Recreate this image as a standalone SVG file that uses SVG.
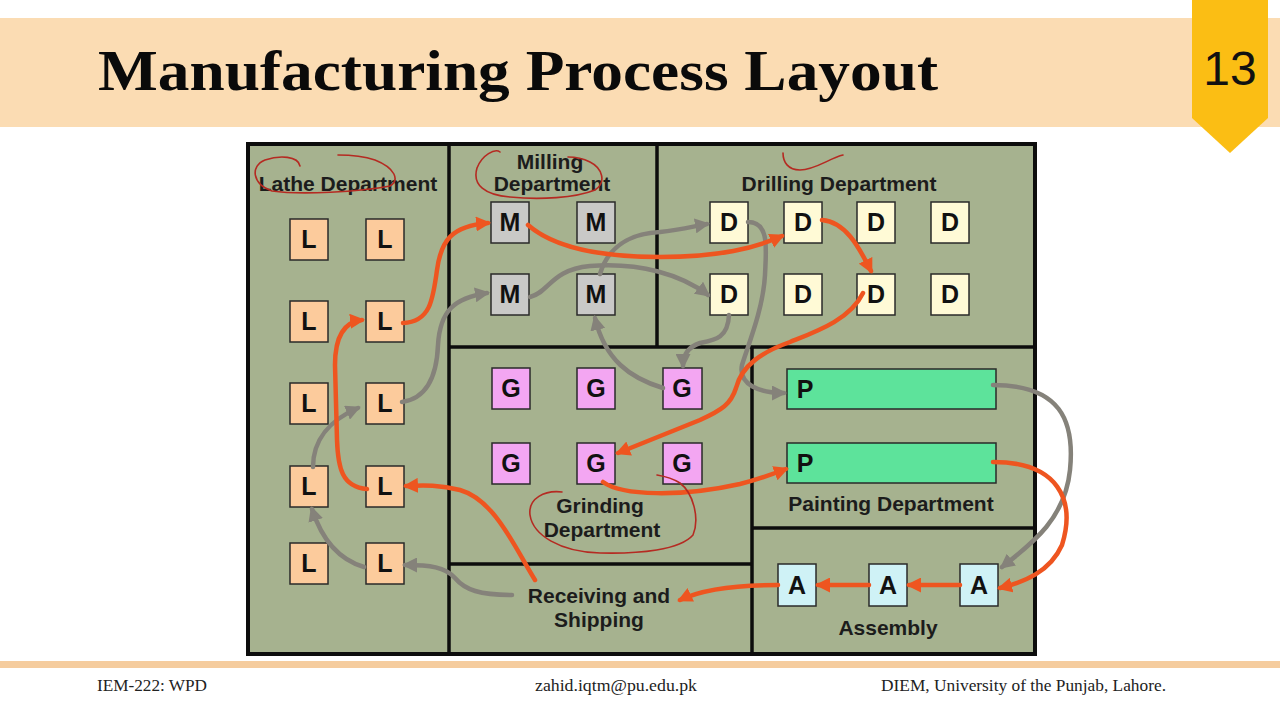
<svg xmlns="http://www.w3.org/2000/svg" width="1280" height="720" viewBox="0 0 1280 720">
<defs>
<style>
.frame{fill:#A6B28F;stroke:#0d0d0d;stroke-width:4}
.div{stroke:#0d0d0d;stroke-width:3.5;fill:none}
.lbl{font-family:"Liberation Sans",Arial,sans-serif;font-weight:bold;font-size:21px;fill:#1c1c1c;text-anchor:middle}
.let{font-family:"Liberation Sans",Arial,sans-serif;font-weight:bold;font-size:25px;fill:#111;text-anchor:middle}
.box{stroke:#2a2a2a;stroke-width:1.5}
.L{fill:#FCCB9C}
.M{fill:#C9C9C7}
.D{fill:#FFFAD6}
.G{fill:#F3A6F2}
.P{fill:#5DE39B}
.A{fill:#CFF2F6}
.or{fill:none;stroke:#EE5520;stroke-width:4.5;stroke-linecap:round}
.gr{fill:none;stroke:#85827A;stroke-width:4.5;stroke-linecap:round}
.red{fill:none;stroke:#B52A22;stroke-width:1.6;stroke-linecap:round}
.foot{font-family:"Liberation Serif","Times New Roman",serif;font-size:16px;fill:#222}
</style>
<marker id="ao" viewBox="0 0 10 10" refX="8" refY="5" markerWidth="15" markerHeight="15" markerUnits="userSpaceOnUse" orient="auto"><path d="M0,0 L10,5 L0,10 z" fill="#EE5520"/></marker>
<marker id="ag" viewBox="0 0 10 10" refX="8" refY="5" markerWidth="15" markerHeight="15" markerUnits="userSpaceOnUse" orient="auto"><path d="M0,0 L10,5 L0,10 z" fill="#85827A"/></marker>
</defs>
<rect x="0" y="0" width="1280" height="720" fill="#ffffff"/>
<!-- header -->
<rect x="0" y="18" width="1280" height="109" fill="#FBDCB3"/>
<text x="98" y="90" font-family="'Liberation Serif','Times New Roman',serif" font-weight="bold" font-size="56" fill="#0a0a0a" textLength="840" lengthAdjust="spacingAndGlyphs">Manufacturing Process Layout</text>
<polygon points="1192,0 1268,0 1268,118 1230,153 1192,118" fill="#FBBE14"/>
<text x="1230" y="85" font-family="'Liberation Sans',Arial,sans-serif" font-size="48" fill="#111" text-anchor="middle">13</text>
<!-- footer -->
<rect x="0" y="661" width="1280" height="7" fill="#F5CC9E"/>
<text class="foot" x="97" y="691" textLength="110" lengthAdjust="spacingAndGlyphs">IEM-222: WPD</text>
<text class="foot" x="535" y="691" textLength="162" lengthAdjust="spacingAndGlyphs">zahid.iqtm@pu.edu.pk</text>
<text class="foot" x="881" y="691" textLength="285" lengthAdjust="spacingAndGlyphs">DIEM, University of the Punjab, Lahore.</text>

<!-- plant frame and department walls -->
<g id="plant">
<rect class="frame" x="248" y="144" width="787" height="510"/>
<line class="div" x1="449" y1="144" x2="449" y2="654"/>
<line class="div" x1="657" y1="144" x2="657" y2="347"/>
<line class="div" x1="449" y1="347" x2="1035" y2="347"/>
<line class="div" x1="752" y1="347" x2="752" y2="654"/>
<line class="div" x1="449" y1="564" x2="752" y2="564"/>
<line class="div" x1="752" y1="528" x2="1035" y2="528"/>
</g>

<!-- department labels -->
<g id="lathe-label"><text class="lbl" x="348" y="191">Lathe Department</text></g>
<g id="milling-label"><text class="lbl" x="550" y="169">Milling</text><text class="lbl" x="552" y="191">Department</text></g>
<g id="drilling-label"><text class="lbl" x="839" y="191">Drilling Department</text></g>
<g id="grinding-label"><text class="lbl" x="600" y="513">Grinding</text><text class="lbl" x="602" y="537">Department</text></g>
<g id="receiving-label"><text class="lbl" x="599" y="603">Receiving and</text><text class="lbl" x="599" y="627">Shipping</text></g>
<g id="painting-label"><text class="lbl" x="891" y="511">Painting Department</text></g>
<g id="assembly-label"><text class="lbl" x="888" y="635">Assembly</text></g>

<!-- Lathe machines -->
<g id="L1"><rect class="box L" x="290" y="219" width="38" height="41"/><text class="let" x="309" y="248">L</text></g>
<g id="L2"><rect class="box L" x="366" y="219" width="38" height="41"/><text class="let" x="385" y="248">L</text></g>
<g id="L3"><rect class="box L" x="290" y="301" width="38" height="41"/><text class="let" x="309" y="330">L</text></g>
<g id="L4"><rect class="box L" x="366" y="301" width="38" height="41"/><text class="let" x="385" y="330">L</text></g>
<g id="L5"><rect class="box L" x="290" y="383" width="38" height="41"/><text class="let" x="309" y="412">L</text></g>
<g id="L6"><rect class="box L" x="366" y="383" width="38" height="41"/><text class="let" x="385" y="412">L</text></g>
<g id="L7"><rect class="box L" x="290" y="466" width="38" height="41"/><text class="let" x="309" y="495">L</text></g>
<g id="L8"><rect class="box L" x="366" y="466" width="38" height="41"/><text class="let" x="385" y="495">L</text></g>
<g id="L9"><rect class="box L" x="290" y="543" width="38" height="41"/><text class="let" x="309" y="572">L</text></g>
<g id="L10"><rect class="box L" x="366" y="543" width="38" height="41"/><text class="let" x="385" y="572">L</text></g>

<!-- Milling machines -->
<g id="M1"><rect class="box M" x="491" y="202" width="38" height="41"/><text class="let" x="510" y="231">M</text></g>
<g id="M2"><rect class="box M" x="577" y="202" width="38" height="41"/><text class="let" x="596" y="231">M</text></g>
<g id="M3"><rect class="box M" x="491" y="274" width="38" height="41"/><text class="let" x="510" y="303">M</text></g>
<g id="M4"><rect class="box M" x="577" y="274" width="38" height="41"/><text class="let" x="596" y="303">M</text></g>

<!-- Drilling machines -->
<g id="D1"><rect class="box D" x="710" y="202" width="38" height="41"/><text class="let" x="729" y="231">D</text></g>
<g id="D2"><rect class="box D" x="784" y="202" width="38" height="41"/><text class="let" x="803" y="231">D</text></g>
<g id="D3"><rect class="box D" x="857" y="202" width="38" height="41"/><text class="let" x="876" y="231">D</text></g>
<g id="D4"><rect class="box D" x="931" y="202" width="38" height="41"/><text class="let" x="950" y="231">D</text></g>
<g id="D5"><rect class="box D" x="710" y="274" width="38" height="41"/><text class="let" x="729" y="303">D</text></g>
<g id="D6"><rect class="box D" x="784" y="274" width="38" height="41"/><text class="let" x="803" y="303">D</text></g>
<g id="D7"><rect class="box D" x="857" y="274" width="38" height="41"/><text class="let" x="876" y="303">D</text></g>
<g id="D8"><rect class="box D" x="931" y="274" width="38" height="41"/><text class="let" x="950" y="303">D</text></g>

<!-- Grinding machines -->
<g id="G1"><rect class="box G" x="492" y="368" width="38" height="41"/><text class="let" x="511" y="397">G</text></g>
<g id="G2"><rect class="box G" x="577" y="368" width="38" height="41"/><text class="let" x="596" y="397">G</text></g>
<g id="G3"><rect class="box G" x="663" y="368" width="39" height="41"/><text class="let" x="682" y="397">G</text></g>
<g id="G4"><rect class="box G" x="492" y="443" width="38" height="41"/><text class="let" x="511" y="472">G</text></g>
<g id="G5"><rect class="box G" x="577" y="443" width="38" height="41"/><text class="let" x="596" y="472">G</text></g>
<g id="G6"><rect class="box G" x="663" y="443" width="39" height="41"/><text class="let" x="682" y="472">G</text></g>

<!-- Painting lines -->
<g id="P1"><rect class="box P" x="787" y="369" width="209" height="40"/><text class="let" x="805" y="398">P</text></g>
<g id="P2"><rect class="box P" x="787" y="443" width="209" height="40"/><text class="let" x="805" y="472">P</text></g>

<!-- Assembly stations -->
<g id="A1"><rect class="box A" x="778" y="564" width="38" height="42"/><text class="let" x="797" y="594">A</text></g>
<g id="A2"><rect class="box A" x="869" y="564" width="38" height="42"/><text class="let" x="888" y="594">A</text></g>
<g id="A3"><rect class="box A" x="960" y="564" width="38" height="42"/><text class="let" x="979" y="594">A</text></g>

<!-- connectors -->
<g id="connectors">
<g id="gray-flow">
<path class="gr" marker-end="url(#ag)" d="M 512,595 C 480,595 465,590 455,578 C 445,567 430,565 405,565"/>
<path class="gr" marker-end="url(#ag)" d="M 364,567 C 340,560 322,540 312,509"/>
<path class="gr" marker-end="url(#ag)" d="M 313,467 C 313,440 330,420 358,408"/>
<path class="gr" marker-end="url(#ag)" d="M 402,402 C 430,398 437,370 438,345 C 440,310 455,298 487,293"/>
<path class="gr" marker-end="url(#ag)" d="M 530,297 C 550,292 550,270 590,266 C 640,262 682,275 708,295"/>
<path class="gr" marker-end="url(#ag)" d="M 600,274 C 610,240 640,233 660,232 C 680,230 695,226 707,224"/>
<path class="gr" marker-end="url(#ag)" d="M 663,388 C 630,378 605,360 595,318"/>
<path class="gr" marker-end="url(#ag)" d="M 729,315 C 728,338 715,340 700,343 C 688,347 683,355 683,366"/>
<path class="gr" marker-end="url(#ag)" d="M 748,222 C 770,222 766,250 765,275 C 763,310 748,345 742,365 C 738,385 760,393 784,393"/>
<path class="gr" marker-end="url(#ag)" d="M 993,385 C 1060,385 1075,420 1070,470 C 1065,520 1030,545 1002,567"/>
</g>
<g id="orange-flow">
<path class="or" marker-end="url(#ao)" d="M 367,489 C 342,487 338,468 337,440 L 335,365 C 335,338 343,322 362,320"/>
<path class="or" marker-end="url(#ao)" d="M 403,323 C 430,322 433,300 437,270 C 441,240 452,226 488,223"/>
<path class="or" marker-end="url(#ao)" d="M 528,225 C 552,246 595,257 660,257 C 720,257 755,248 782,236"/>
<path class="or" marker-end="url(#ao)" d="M 822,220 C 845,222 858,245 871,271"/>
<path class="or" marker-end="url(#ao)" d="M 863,293 C 850,320 815,332 790,342 C 762,352 742,365 736,388 C 731,404 722,410 700,420 L 618,453"/>
<path class="or" marker-end="url(#ao)" d="M 603,482 C 622,496 682,497 740,484 C 760,479 773,474 786,469"/>
<path class="or" marker-end="url(#ao)" d="M 993,462 C 1058,462 1076,500 1062,545 C 1050,572 1024,582 1000,588"/>
<path class="or" marker-end="url(#ao)" d="M 960,585 L 909,585"/>
<path class="or" marker-end="url(#ao)" d="M 869,585 L 818,585"/>
<path class="or" marker-end="url(#ao)" d="M 778,585 C 740,585 705,588 680,600"/>
<path class="or" marker-end="url(#ao)" d="M 535,580 C 515,548 495,500 460,490 C 440,485 425,485 406,486"/>
</g>
</g>

<!-- hand-drawn annotations -->
<g id="annotations">
<path class="red" d="M 300,166 C 298,156 280,155 265,160 C 250,166 252,184 272,191 C 300,195 360,192 390,186 C 400,180 395,168 375,160 C 360,155 345,155 338,155"/>
<path class="red" d="M 500,152 C 495,148 482,155 477,168 C 472,185 485,195 510,197 C 540,200 575,198 595,190 C 607,182 602,168 590,162 C 582,158 575,157 568,157"/>
<path class="red" d="M 783,153 C 783,162 788,170 800,170 C 815,170 830,158 843,155"/>
<path class="red" d="M 562,492 C 545,490 528,498 530,515 C 533,535 560,552 600,553 C 640,554 680,550 693,535 C 700,518 693,493 680,483 C 672,478 663,476 657,475"/>
</g>
</svg>
